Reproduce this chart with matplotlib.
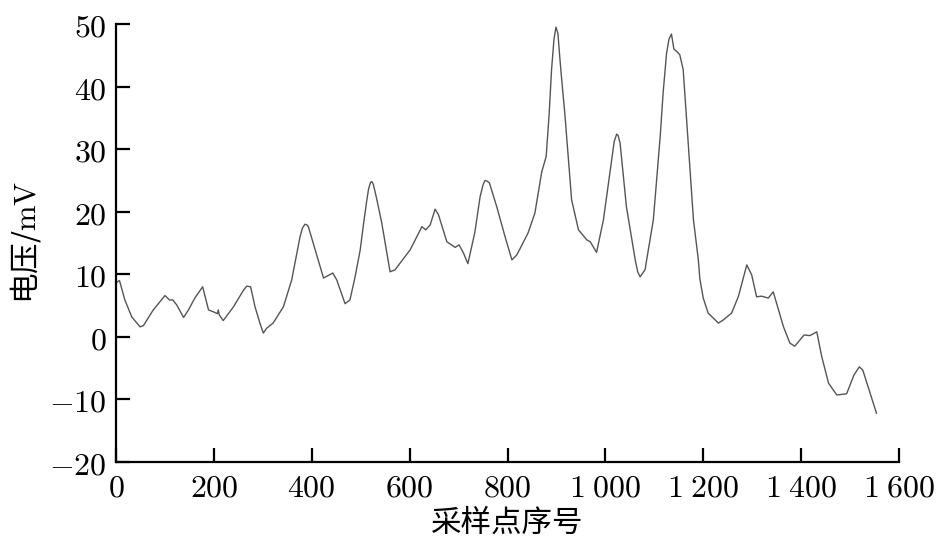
import matplotlib.pyplot as plt
from matplotlib.ticker import FuncFormatter

# sample index and voltage (mV)
sample_idx = [3, 7, 18, 32, 49, 56, 76, 100, 109, 116, 124, 138, 148, 161, 177,
              189, 199, 207, 209, 211, 219, 240, 260, 267, 275, 284, 294, 301,
              308, 321, 342, 359, 376, 381, 386, 390, 393, 407, 424, 443, 451,
              468, 478, 488, 499, 505, 512, 516, 520, 523, 526, 532, 543, 560,
              570, 601, 625, 633, 642, 652, 659, 676, 693, 701, 710, 719, 733,
              744, 750, 754, 758, 763, 778, 795, 809, 819, 825, 842, 856, 870,
              879, 885, 890, 895, 899, 903, 907, 912, 917, 931, 945, 962, 969,
              982, 996, 1013, 1018, 1023, 1026, 1030, 1036, 1043, 1061, 1066,
              1071, 1081, 1098, 1112, 1118, 1125, 1130, 1135, 1140, 1146, 1152,
              1159, 1166, 1173, 1180, 1190, 1193, 1200, 1210, 1231, 1241, 1258,
              1272, 1289, 1299, 1309, 1319, 1333, 1343, 1364, 1377, 1387, 1406,
              1418, 1432, 1442, 1456, 1473, 1493, 1508, 1519, 1526, 1541, 1554]
voltage = [8.8, 9.0, 5.9, 3.2, 1.6, 1.8, 4.3, 6.6, 5.9, 5.9, 5.1, 3.1, 4.3, 6.2,
           8.0, 4.3, 4.0, 3.7, 4.3, 3.5, 2.6, 4.8, 7.4, 8.1, 8.0, 4.8, 2.2, 0.6,
           1.4, 2.2, 4.8, 9.1, 16.0, 17.4, 18.0, 17.9, 17.6, 13.9, 9.4, 10.2,
           9.1, 5.3, 5.9, 9.4, 13.9, 17.6, 21.6, 23.6, 24.7, 24.8, 24.3, 22.3,
           18.2, 10.4, 10.7, 13.9, 17.6, 17.1, 17.9, 20.4, 19.5, 15.2, 14.3,
           14.7, 13.4, 11.7, 16.6, 22.4, 24.3, 25.0, 24.9, 24.6, 20.8, 16.0,
           12.3, 13.1, 14.0, 16.6, 19.8, 26.4, 28.8, 35.5, 42.7, 47.6, 49.5,
           48.5, 44.5, 40.0, 35.8, 21.9, 17.1, 15.5, 15.2, 13.5, 18.7, 28.3,
           31.2, 32.4, 32.2, 31.0, 26.3, 20.8, 12.3, 10.4, 9.6, 10.7, 18.7, 32.0,
           39.0, 45.3, 47.6, 48.4, 46.0, 45.6, 45.1, 42.7, 34.7, 26.7, 18.7,
           12.3, 9.3, 6.2, 3.8, 2.2, 2.7, 3.8, 6.5, 11.5, 9.9, 6.4, 6.5, 6.2,
           7.2, 1.6, -1.0, -1.5, 0.3, 0.2, 0.8, -3.1, -7.4, -9.3, -9.1, -6.1,
           -4.8, -5.3, -9.0, -12.2]

x_ticks = [0, 200, 400, 600, 800, 1000, 1200, 1400, 1600]
y_ticks = [-20, -10, 0, 10, 20, 30, 40, 50]

plt.rcParams['font.family'] = ['Noto Sans CJK SC', 'DejaVu Sans']
plt.rcParams['mathtext.fontset'] = 'cm'


def tick_fmt(v, pos):
    # thousands separated by a space, as in the source
    n = int(round(v))
    s = f'{abs(n):,}'.replace(',', r'\;')
    if n < 0:
        s = '-' + s
    return f'${s}$'


fig = plt.figure(figsize=(9.45, 5.57), dpi=100)
ax = fig.add_axes([0.1228, 0.1706, 0.8285, 0.7863])

ax.plot(sample_idx, voltage, color='#555555', linewidth=1.0)

ax.set_xlim(0, 1600)
ax.set_ylim(-20, 50)
ax.set_xticks(x_ticks)
ax.set_yticks(y_ticks)
ax.xaxis.set_major_formatter(FuncFormatter(tick_fmt))
ax.yaxis.set_major_formatter(FuncFormatter(tick_fmt))

for side in ['top', 'right']:
    ax.spines[side].set_visible(False)
for side in ['left', 'bottom']:
    ax.spines[side].set_linewidth(1.6)
ax.tick_params(direction='in', length=10, width=1.6, labelsize=23, pad=7)

ax.set_xlabel('采样点序号', fontsize=22, labelpad=3)
ax.set_ylabel('电压/$\\mathrm{mV}$', fontsize=22, labelpad=4)

fig.savefig('out.png', dpi=100)
